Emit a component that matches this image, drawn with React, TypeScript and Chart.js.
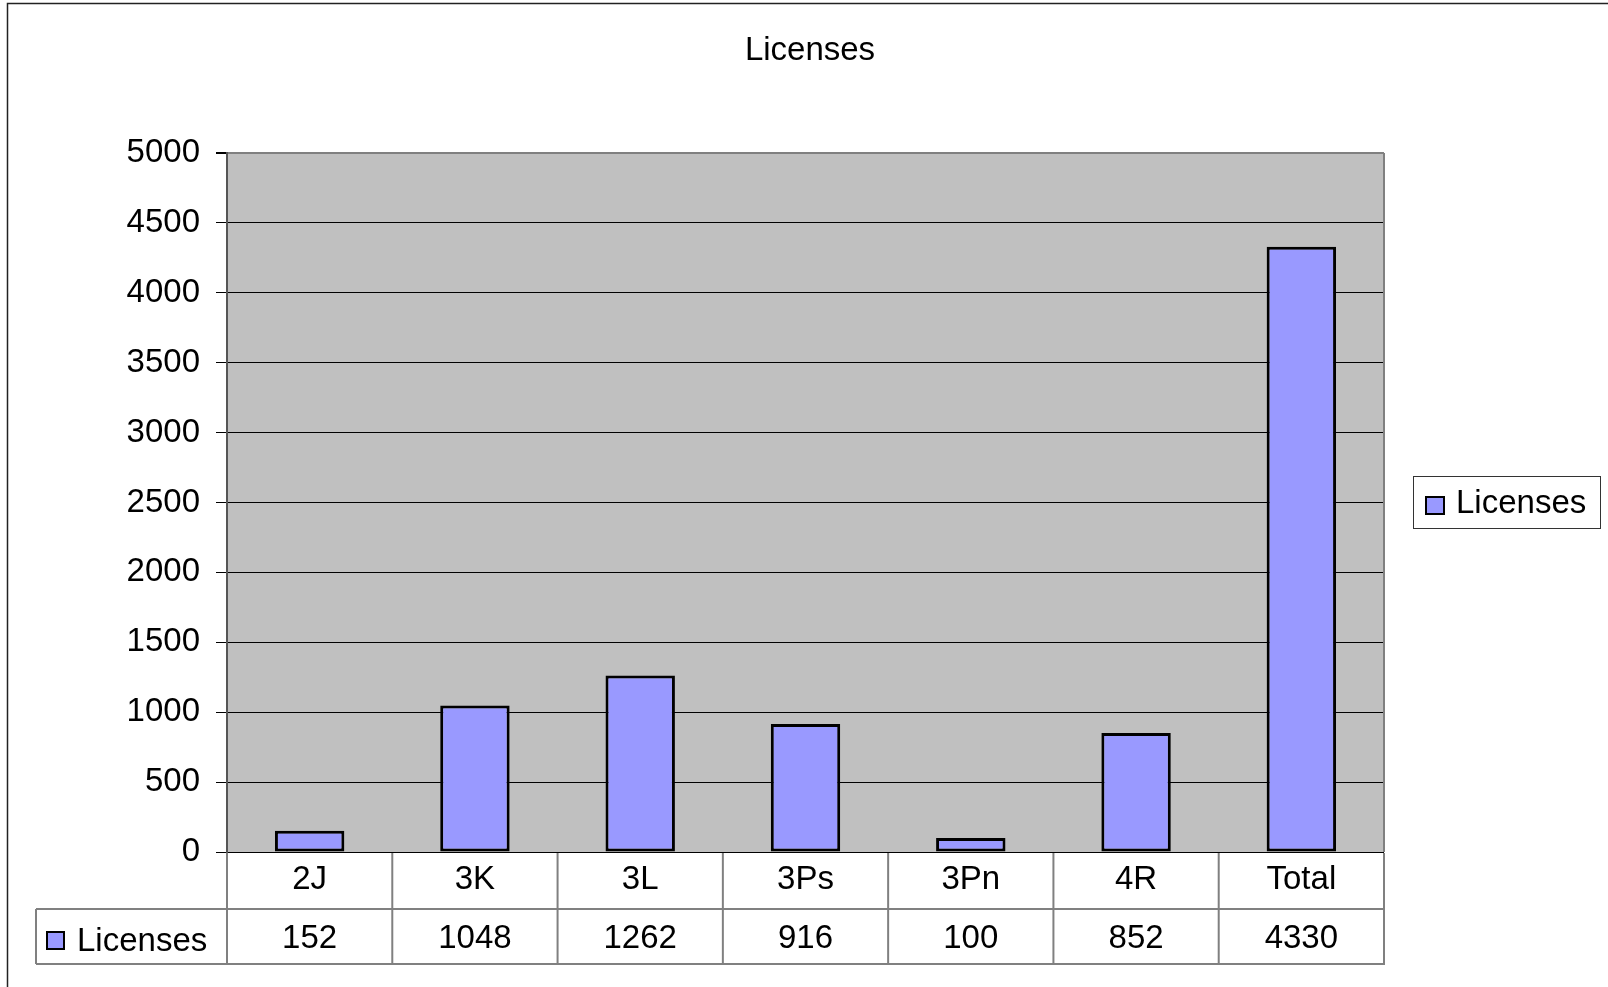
import React, { useEffect, useRef } from "react";
import { Chart, registerables } from "chart.js";

Chart.register(...registerables);

const categories = ["2J", "3K", "3L", "3Ps", "3Pn", "4R", "Total"];
const licenses = [152, 1048, 1262, 916, 100, 852, 4330];
const seriesName = "Licenses";
const chartTitle = "Licenses";
const yMin = 0;
const yMax = 5000;
const yStep = 500;

const FONT = '"Liberation Sans", Arial, sans-serif';
const FONT_SIZE = 33;
const BAR_COLOR = "#9999FF";

const decorPlugin = {
  id: "excelDecor",
  beforeDraw(chart: any) {
    const { ctx, chartArea } = chart;
    ctx.save();
    ctx.fillStyle = "#ffffff";
    ctx.fillRect(0, 0, chart.width, chart.height);
    ctx.fillStyle = "#C0C0C0";
    ctx.fillRect(chartArea.left, chartArea.top, chartArea.right - chartArea.left, chartArea.bottom - chartArea.top);
    ctx.restore();
  },
  afterDraw(chart: any) {
    const { ctx, chartArea } = chart;
    const xs = chart.scales.x;
    const L = chartArea.left;
    const R = chartArea.right;
    const B = chartArea.bottom;
    const T = chartArea.top;
    const n = categories.length;
    const colW = (R - L) / n;
    const row1B = B + 57;
    const row2B = B + 112;
    const tableLeft = 36;

    ctx.save();
    // outer chart border
    ctx.strokeStyle = "#222";
    ctx.lineWidth = 1.5;
    ctx.beginPath();
    ctx.moveTo(7.5, chart.height);
    ctx.lineTo(7.5, 3.5);
    ctx.lineTo(chart.width, 3.5);
    ctx.stroke();

    // plot area right border
    ctx.strokeStyle = "#808080";
    ctx.lineWidth = 2;
    ctx.beginPath();
    ctx.moveTo(R, T);
    ctx.lineTo(R, B);
    ctx.stroke();

    // data table
    ctx.strokeStyle = "#808080";
    ctx.lineWidth = 2;
    ctx.beginPath();
    for (let k = 0; k <= n; k++) {
      const x = L + k * colW;
      ctx.moveTo(x, B + 1);
      ctx.lineTo(x, row2B);
    }
    ctx.moveTo(tableLeft, row1B);
    ctx.lineTo(R, row1B);
    ctx.moveTo(tableLeft, row2B);
    ctx.lineTo(R + 1, row2B);
    ctx.moveTo(tableLeft, row1B);
    ctx.lineTo(tableLeft, row2B);
    ctx.stroke();

    ctx.fillStyle = "#000";
    ctx.font = `${FONT_SIZE}px ${FONT}`;
    ctx.textAlign = "center";
    ctx.textBaseline = "alphabetic";
    categories.forEach((c, i) => {
      const cx = xs.getPixelForValue(i);
      ctx.fillText(c, cx, B + 37);
      ctx.fillText(String(licenses[i]), cx, B + 96);
    });

    // table legend key
    ctx.fillStyle = BAR_COLOR;
    ctx.fillRect(47, 932, 17, 17);
    ctx.strokeStyle = "#000";
    ctx.lineWidth = 2;
    ctx.strokeRect(47, 932, 17, 17);
    ctx.fillStyle = "#000";
    ctx.textAlign = "left";
    ctx.fillText(seriesName, 77, B + 99);

    // legend
    ctx.strokeStyle = "#333";
    ctx.lineWidth = 1;
    ctx.strokeRect(1413.5, 476.5, 187, 52);
    ctx.fillStyle = BAR_COLOR;
    ctx.fillRect(1426, 497, 18, 17);
    ctx.strokeStyle = "#000";
    ctx.lineWidth = 2;
    ctx.strokeRect(1426, 497, 18, 17);
    ctx.fillStyle = "#000";
    ctx.textAlign = "left";
    ctx.fillText(seriesName, 1456, 513);

    // title
    ctx.textAlign = "center";
    ctx.fillText(chartTitle, 810, 60);
    ctx.restore();
  },
};

export default function App() {
  const ref = useRef<HTMLCanvasElement | null>(null);

  useEffect(() => {
    if (!ref.current) return;
    const chart = new Chart(ref.current, {
      type: "bar",
      data: {
        labels: categories,
        datasets: [
          {
            label: seriesName,
            data: licenses,
            backgroundColor: BAR_COLOR,
            borderColor: "#000",
            borderWidth: 3,
            borderSkipped: false,
            barPercentage: 0.42,
            categoryPercentage: 1,
          },
        ],
      },
      options: {
        responsive: false,
        maintainAspectRatio: false,
        devicePixelRatio: 1,
        animation: false,
        layout: { padding: { left: 0, right: 224, top: 153, bottom: 135 } },
        plugins: {
          legend: { display: false },
          title: { display: false },
          tooltip: { enabled: false },
        },
        scales: {
          x: { display: false, offset: true },
          y: {
            min: yMin,
            max: yMax,
            afterFit: (scale: any) => {
              scale.width = 227;
            },
            ticks: {
              stepSize: yStep,
              color: "#000",
              padding: 16,
              font: { family: FONT, size: FONT_SIZE },
              callback: (v: any) => String(v),
            },
            grid: {
              color: (c: any) => (c.tick && c.tick.value === yMax ? "#808080" : "#000"),
              lineWidth: (c: any) => (c.tick && c.tick.value === yMax ? 2 : 1),
              tickColor: "#000",
              tickLength: 11,
            },
            border: { display: true, color: "#555", width: 2 },
          },
        },
      },
      plugins: [decorPlugin],
    });
    return () => chart.destroy();
  }, []);

  return (
    <div style={{ position: "fixed", left: 0, top: 0, width: 1608, height: 987, background: "#fff" }}>
      <canvas ref={ref} width={1608} height={987} style={{ display: "block" }} />
    </div>
  );
}
